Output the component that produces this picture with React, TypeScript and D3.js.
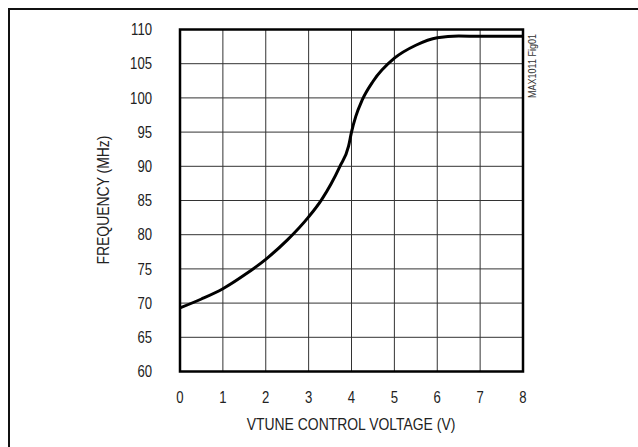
import { useEffect } from "react";
import * as d3 from "d3";

// VTUNE vs frequency
const voltage = [0, 0.5, 1, 1.5, 2, 2.5, 3, 3.3, 3.73, 3.93, 4.0, 4.1, 4.25, 4.5, 5, 5.5, 6, 6.5, 7, 8];
const frequency = [69.3, 70.6, 72.1, 74.1, 76.4, 79.2, 82.6, 85.1, 90, 92.9, 95.0, 97.3, 99.7, 102.4, 105.8, 107.7, 108.8, 109.05, 109.0, 109.0];

const xTicks = [0, 1, 2, 3, 4, 5, 6, 7, 8];
const yTicks = [60, 65, 70, 75, 80, 85, 90, 95, 100, 105, 110];

const font = "'Liberation Sans', Arial, sans-serif";
const narrow = 0.82; // squeeze to mimic a narrow face

export default function App() {
  useEffect(() => {
    document.body.style.margin = "0";
    document.body.style.overflow = "hidden";
  }, []);

  const x = d3.scaleLinear().domain([0, 8]).range([180, 523]);
  const y = d3.scaleLinear().domain([60, 110]).range([371.5, 29.5]);

  const line = d3
    .line<number>()
    .x((_, i) => x(voltage[i]))
    .y((d) => y(d))
    .curve(d3.curveMonotoneX);

  return (
    <svg width={638} height={447} style={{ display: "block" }} fontFamily={font}>
      <rect x={0} y={0} width={638} height={447} fill="white" />
      <rect x={9} y={9} width={700} height={500} fill="none" stroke="#111" strokeWidth={2} />

      {/* grid */}
      {xTicks.slice(1, -1).map((t) => (
        <line key={"gx" + t} x1={x(t)} x2={x(t)} y1={y(110)} y2={y(60)} stroke="#333" strokeWidth={1} />
      ))}
      {yTicks.slice(1, -1).map((t) => (
        <line key={"gy" + t} x1={x(0)} x2={x(8)} y1={y(t)} y2={y(t)} stroke="#333" strokeWidth={1} />
      ))}

      <path d={line(frequency) || ""} fill="none" stroke="#000" strokeWidth={3} strokeLinejoin="round" />

      <rect x={x(0)} y={y(110)} width={x(8) - x(0)} height={y(60) - y(110)} fill="none" stroke="#000" strokeWidth={2.5} />

      {/* tick labels */}
      {yTicks.map((t) => (
        <text key={"ty" + t} transform={`translate(152,${y(t)}) scale(${narrow},1)`} dy="0.35em" textAnchor="end" fontSize={16} fill="#222">
          {t}
        </text>
      ))}
      {xTicks.map((t) => (
        <text key={"tx" + t} transform={`translate(${x(t)},397) scale(${narrow},1)`} dy="0.35em" textAnchor="middle" fontSize={16} fill="#222">
          {t}
        </text>
      ))}

      <text transform={`translate(351,424) scale(${narrow},1)`} dy="0.35em" textAnchor="middle" fontSize={17} fill="#222">
        VTUNE CONTROL VOLTAGE (V)
      </text>
      <text transform={`translate(103,200) rotate(-90) scale(${narrow},1)`} dy="0.35em" textAnchor="middle" fontSize={17} fill="#222">
        FREQUENCY (MHz)
      </text>
      <text transform={`translate(532,66) rotate(-90) scale(${narrow},1)`} dy="0.35em" textAnchor="middle" fontSize={11} fill="#333">
        MAX1011 Fig01
      </text>
    </svg>
  );
}
